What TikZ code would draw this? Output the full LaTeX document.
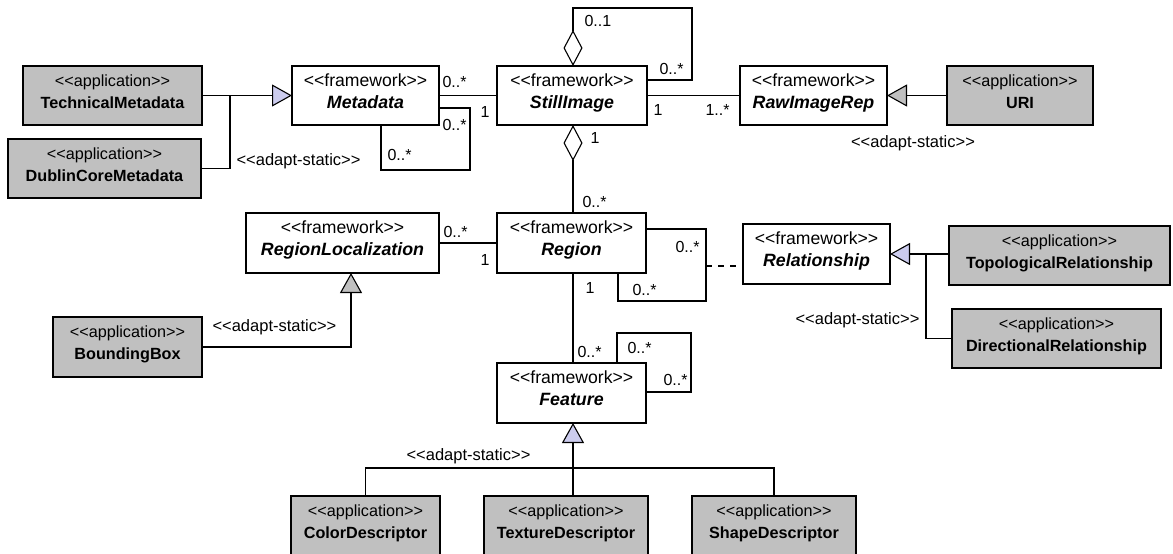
\documentclass[tikz,border=0pt]{standalone}
\usepackage{fontspec}
\setmainfont{Liberation Sans}[Ligatures=TeXOff]
\usetikzlibrary{arrows.meta,calc}
\definecolor{appgray}{RGB}{192,192,192}
\definecolor{lavfill}{RGB}{204,204,238}

% guillemet-free stereotype text
\newcommand\stereotxt[1]{<\kern0pt<#1>\kern0pt>}

% class box: name, kind (fw/app), left, top, right, bottom, stereotype, title
\newcommand\umlcls[8]{%
  \node[#2box, minimum width={#5pt-#3pt}, minimum height={#6pt-#4pt}] (#1) at ({(#3+#5)/2},{(#4+#6)/2}) {};
  \node[#2stereo] (#1-s) at ({(#3+#5)/2},{#4+20}) {\stereotxt{#7}};
  \node[#2name] (#1-n) at ({(#3+#5)/2},{#4+42}) {#8};
}

\begin{document}
\begin{tikzpicture}[x=1pt,y=-1pt, line width=1.1pt,
  fwbox/.style={draw, fill=white, inner sep=0pt, outer sep=0pt},
  appbox/.style={draw, fill=appgray, inner sep=0pt, outer sep=0pt},
  fwstereo/.style={anchor=base, inner sep=0pt, font=\fontsize{17.6}{20}\selectfont},
  appstereo/.style={anchor=base, inner sep=0pt, font=\fontsize{16.2}{19}\selectfont},
  fwname/.style={anchor=base, inner sep=0pt, font=\fontsize{17.8}{20}\selectfont\bfseries\itshape},
  appname/.style={anchor=base, inner sep=0pt, font=\fontsize{16.2}{19}\selectfont\bfseries},
  mult/.style={anchor=base west, inner sep=0pt, font=\fontsize{16}{18}\selectfont},
  adapt/.style={inner sep=0pt, font=\fontsize{16.5}{19}\selectfont},
  genl/.style={-{Triangle[length=20pt,width=22pt,fill=lavfill]}},
  geng/.style={-{Triangle[length=20pt,width=22pt,fill=appgray]}},
  aggr/.style={{Diamond[open,length=36pt,width=19pt]}-},
]
\useasboundingbox (0,0) rectangle (1173,554);
\clip (0,0) rectangle (1173,554);

% ---- classes ----
\umlcls{tm}{app}{23}{66}{202}{125}{application}{TechnicalMetadata}
\umlcls{dc}{app}{8}{139}{201}{198}{application}{DublinCoreMetadata}
\umlcls{md}{fw}{292}{66}{439}{125}{framework}{Metadata}
\umlcls{si}{fw}{497}{66}{647}{125}{framework}{StillImage}
\umlcls{rir}{fw}{740}{66}{887}{125}{framework}{RawImageRep}
\umlcls{uri}{app}{947}{66}{1093}{125}{application}{URI}
\umlcls{rl}{fw}{246}{213}{439}{273}{framework}{RegionLocalization}
\umlcls{rg}{fw}{497}{213}{646}{273}{framework}{Region}
\umlcls{rel}{fw}{743}{224}{890}{284}{framework}{Relationship}
\umlcls{tr}{app}{949}{226}{1170}{285}{application}{TopologicalRelationship}
\umlcls{dr}{app}{952}{309}{1161}{368}{application}{DirectionalRelationship}
\umlcls{bb}{app}{53}{317}{202}{377}{application}{BoundingBox}
\umlcls{ft}{fw}{497}{363}{646}{423}{framework}{Feature}
\umlcls{cd}{app}{291}{496}{440}{556}{application}{ColorDescriptor}
\umlcls{td}{app}{484}{496}{648}{556}{application}{TextureDescriptor}
\umlcls{sd}{app}{692}{496}{856}{556}{application}{ShapeDescriptor}

% ---- bend points ----
\coordinate (jm) at (230,95.5);
\coordinate (spine) at (573,0);
\coordinate (ml1) at (470,108);
\coordinate (ml2) at (381,170);
\coordinate (sl1) at (692,8);
\coordinate (sl2) at (692,80);
\coordinate (jb) at (351,347);
\coordinate (rl1) at (706,229);
\coordinate (rl2) at (618,301);
\coordinate (dl) at (706,266);
\coordinate (jr) at (926,254);
\coordinate (fl1) at (617,333);
\coordinate (fl2) at (691,392);
\coordinate (bar) at (573,468);

% ---- metadata ----
\draw (dc.east) -| (jm);
\draw[genl] (tm.east) -- (md.west);
\draw (md.east) -- (si.west);
\draw (md.east |- ml1) -- (ml1) |- (ml2) -- (ml2 |- md.south);

% ---- still image ----
\draw[aggr] (si.north -| spine) |- (sl1) -- (sl2) -- (si.east |- sl2);
\draw (si.east) -- (rir.west);
\draw[geng] (uri.west) -- (rir.east);
\draw[aggr] (si.south -| spine) -- (rg.north -| spine);

% ---- region ----
\draw (rl.east) -- (rg.west);
\draw[geng] (bb.east) -| (rl.south -| jb);
\draw (rg.east |- rl1) -- (rl1) |- (rl2) -- (rl2 |- rg.south);
\draw[dash pattern=on 6pt off 6pt] (dl) -- (rel.west |- dl);
\draw (dr.west) -| (jr);
\draw[genl] (tr.west |- jr) -- (rel.east |- jr);

% ---- feature ----
\draw (rg.south -| spine) -- (ft.north -| spine);
\draw (ft.north -| fl1) -- (fl1) -| (fl2) -- (ft.east |- fl2);
\draw (cd.north) |- (bar) -| (sd.north);
\draw[genl] (td.north -| spine) -- (ft.south -| spine);

% ---- multiplicities ----
\node[mult] (m1) at (442,87) {0..*};
\node[mult] (m2) at (480,117) {1};
\node[mult] (m3) at (442,130) {0..*};
\node[mult] (m4) at (387,160) {0..*};
\node[mult] (m5) at (584,27) {0..1};
\node[mult] (m6) at (659,74) {0..*};
\node[mult] (m7) at (653,115) {1};
\node[mult] (m8) at (705,115) {1..*};
\node[mult] (m9) at (590,143) {1};
\node[mult] (m10) at (582,207) {0..*};
\node[mult] (m11) at (443,237) {0..*};
\node[mult] (m12) at (480,265) {1};
\node[mult] (m13) at (675,252) {0..*};
\node[mult] (m14) at (632,295) {0..*};
\node[mult] (m15) at (585,293) {1};
\node[mult] (m16) at (577,357) {0..*};
\node[mult] (m17) at (627,353) {0..*};
\node[mult] (m18) at (663,385) {0..*};

% ---- stereotypes on generalizations ----
\node[adapt, anchor=base east] (a1) at (361,165) {\stereotxt{adapt-static}};
\node[adapt, anchor=base] (a2) at (913,147) {\stereotxt{adapt-static}};
\node[adapt, anchor=base west] (a3) at (212,331) {\stereotxt{adapt-static}};
\node[adapt, anchor=base west] (a4) at (795,324) {\stereotxt{adapt-static}};
\node[adapt, anchor=base west] (a5) at (406,460) {\stereotxt{adapt-static}};
\end{tikzpicture}
\end{document}
